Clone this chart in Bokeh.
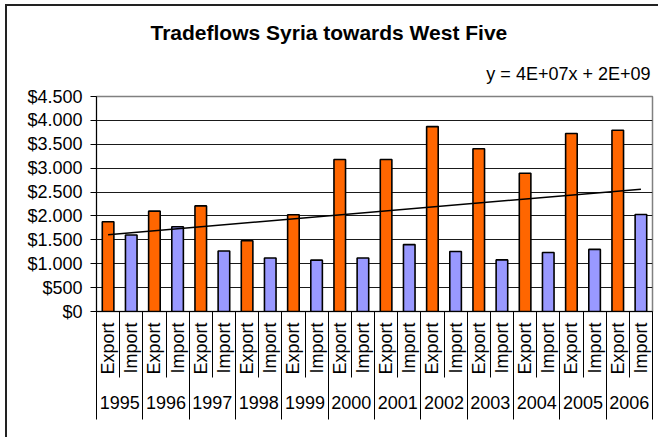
import numpy as np
from bokeh.plotting import figure
from bokeh.models import (Range1d, FixedTicker, LinearAxis, Grid, Title, ColumnDataSource)
from bokeh.embed import file_html
from bokeh.resources import INLINE

# ---------------- data ----------------
years = ["1995", "1996", "1997", "1998", "1999", "2000",
         "2001", "2002", "2003", "2004", "2005", "2006"]
flows = ["Export", "Import"]
export_values = [1880, 2100, 2210, 1480, 2025, 3180, 3180, 3870, 3405, 2895, 3725, 3795]
import_values = [1600, 1775, 1265, 1120, 1075, 1120, 1400, 1255, 1080, 1235, 1300, 2030]
y_ticks = [0, 500, 1000, 1500, 2000, 2500, 3000, 3500, 4000, 4500]
y_tick_labels = ["$0", "$500", "$1.000", "$1.500", "$2.000", "$2.500",
                 "$3.000", "$3.500", "$4.000", "$4.500"]
title_text = "Tradeflows Syria towards West Five"
trend_text = "y = 4E+07x + 2E+09"
flow_colors = {"Export": "#FF6600", "Import": "#9999FF"}

FONT = "Liberation Sans"

# ---------------- derived table ----------------
xs, tops, labels, colors = [], [], [], []
for i, yr in enumerate(years):
    for j, fl in enumerate(flows):
        xs.append(2 * i + j + 1)
        tops.append(export_values[i] if fl == "Export" else import_values[i])
        labels.append(fl)
        colors.append(flow_colors[fl])
bars = ColumnDataSource(dict(x=xs, top=tops, flow=labels, color=colors))
year_centers = [2 * i + 1.5 for i in range(len(years))]

n = len(xs)
p = figure(width=653, height=433, output_backend="svg", toolbar_location=None,
           x_range=Range1d(0.5, n + 0.5), y_range=Range1d(y_ticks[0], y_ticks[-1]),
           x_axis_type=None, y_axis_type=None,
           min_border_left=89, min_border_right=8, min_border_top=90, min_border_bottom=128,
           outline_line_color="#808080", outline_line_width=1.5,
           background_fill_color="white", border_fill_color="white")
p.styles = {"margin-left": "5px", "margin-top": "4px",
            "border-left": "2px solid #222222", "border-top": "2px solid #222222"}

# y axis
yaxis = LinearAxis(ticker=FixedTicker(ticks=y_ticks, minor_ticks=[]),
                   major_label_overrides={t: s for t, s in zip(y_ticks, y_tick_labels)},
                   axis_line_color="black", axis_line_width=1,
                   major_tick_line_color="black", major_tick_out=6, major_tick_in=0,
                   minor_tick_line_color=None,
                   major_label_standoff=8,
                   major_label_text_font=FONT, major_label_text_font_size="18px",
                   major_label_text_color="black")
p.add_layout(yaxis, "left")

p.add_layout(Grid(dimension=1, ticker=FixedTicker(ticks=y_ticks[1:-1]),
                  grid_line_color="#1a1a1a", grid_line_width=1))

# x axis, level 1: Export / Import labels, short separators between all categories
all_bounds = [k + 0.5 for k in range(n + 1)]
year_bounds = [2 * i + 0.5 for i in range(len(years) + 1)]
xaxis1 = LinearAxis(ticker=FixedTicker(ticks=xs, minor_ticks=all_bounds),
                    major_label_overrides={x: f for x, f in zip(xs, labels)},
                    major_label_orientation=np.pi / 2, major_label_standoff=-55,
                    major_label_text_font=FONT, major_label_text_font_size="18px",
                    major_label_text_color="black",
                    axis_line_color="black", axis_line_width=1,
                    major_tick_line_color=None, major_tick_out=0, major_tick_in=0,
                    minor_tick_line_color="black", minor_tick_out=66, minor_tick_in=0)
p.add_layout(xaxis1, "below")

# x axis, level 2: years, long separators between years
xaxis2 = LinearAxis(ticker=FixedTicker(ticks=year_centers, minor_ticks=year_bounds),
                    major_label_overrides={x: y for x, y in zip(year_centers, years)},
                    major_label_standoff=-24,
                    major_label_text_font=FONT, major_label_text_font_size="18px",
                    major_label_text_color="black",
                    axis_line_color=None,
                    major_tick_line_color=None, major_tick_out=0, major_tick_in=0,
                    minor_tick_line_color="black", minor_tick_out=42, minor_tick_in=20)
p.add_layout(xaxis2, "below")

# bars
p.vbar(x="x", top="top", width=0.5, fill_color="color", line_color="black",
       line_width=1.6, source=bars)

# linear trend line
coef = np.polyfit(np.array(xs, dtype=float), np.array(tops, dtype=float), 1)
tx = np.array([xs[0], xs[-1]], dtype=float)
p.line(tx, np.polyval(coef, tx), line_color="black", line_width=1.5)

# equation (nearest the frame) and chart title (outer)
p.add_layout(Title(text=trend_text, align="right", offset=2, standoff=26,
                   text_font=FONT, text_font_size="18px", text_font_style="normal",
                   text_color="black"), "above")
p.add_layout(Title(text=title_text, align="left", offset=54, standoff=9,
                   text_font=FONT, text_font_size="21px", text_font_style="bold",
                   text_color="black"), "above")

open("out.html", "w").write(file_html(p, INLINE))
